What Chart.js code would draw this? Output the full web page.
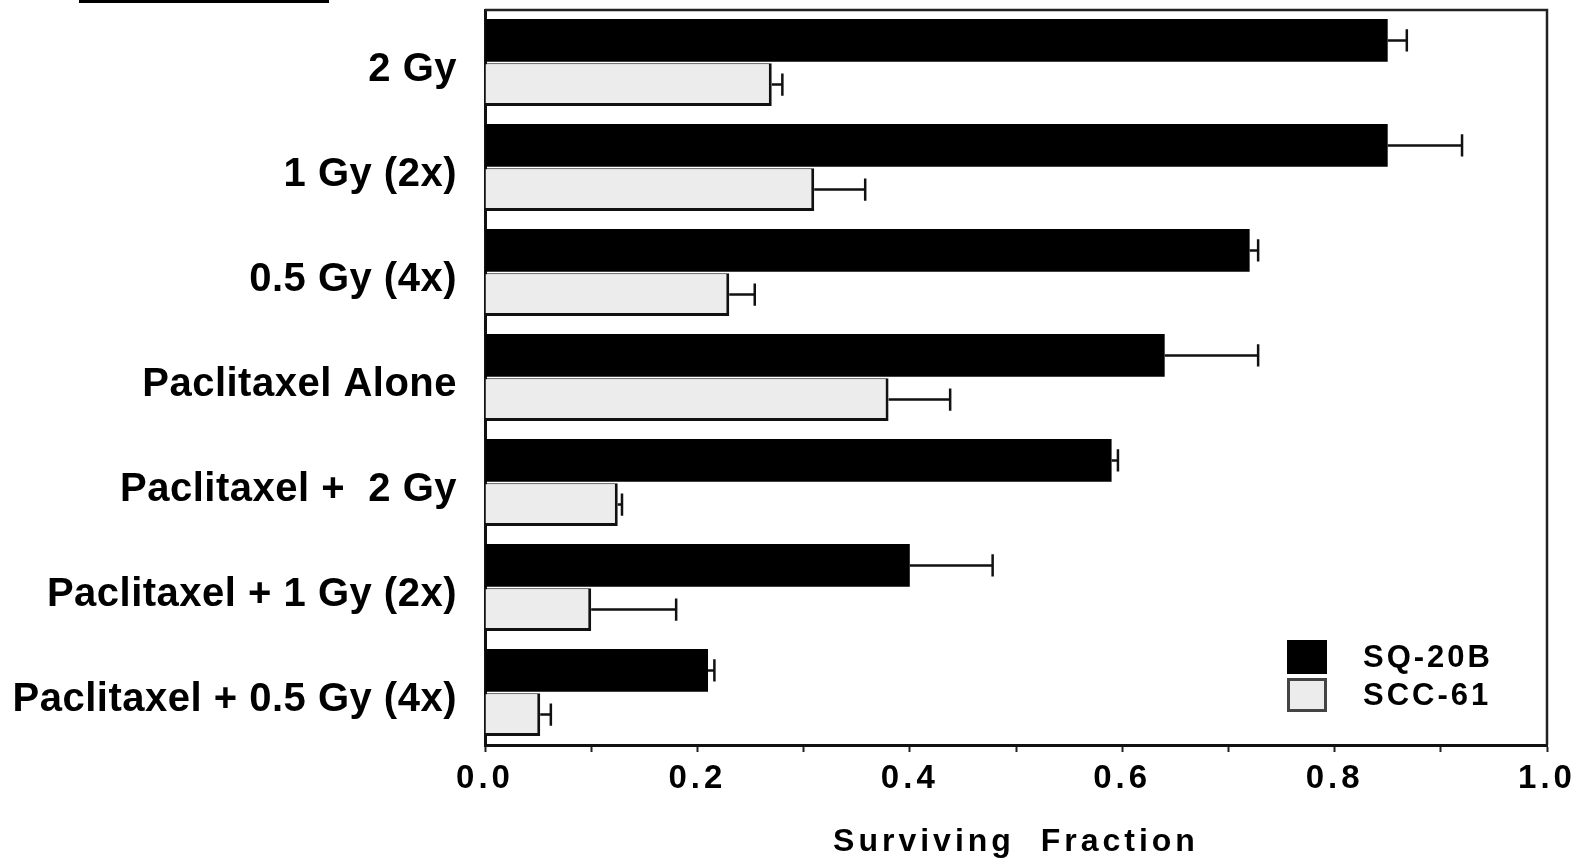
<!DOCTYPE html>
<html>
<head>
<meta charset="utf-8">
<script src="https://cdn.jsdelivr.net/npm/chart.js@4.4.1/dist/chart.umd.min.js"></script>
<style>
    body { margin: 0; background: #fff; }
    #wrap { position: relative; width: 1587px; height: 861px; }
    #top_rule { position: absolute; left: 79px; top: 0; width: 250px; height: 3px; background: #000; }
    #legend { position: absolute; left: 1287px; top: 638px; font-family: 'Liberation Sans', Arial, sans-serif; font-weight: bold; font-size: 31px; letter-spacing: 3px; color: #000; }
    .legend_row { display: flex; align-items: center; height: 38px; }
    .legend_box { width: 40px; height: 34px; box-sizing: border-box; margin-right: 36px; }
</style>
</head>
<body>
<div id="wrap">
    <canvas id="chart_surv" width="1587" height="861"></canvas>
    <div id="top_rule"></div>
    <div id="legend"></div>
</div>
<script>
const categories = [
    '2 Gy',
    '1 Gy (2x)',
    '0.5 Gy (4x)',
    'Paclitaxel Alone',
    'Paclitaxel +  2 Gy',
    'Paclitaxel + 1 Gy (2x)',
    'Paclitaxel + 0.5 Gy (4x)',
];

const sq20b_values = [0.85, 0.85, 0.72, 0.64, 0.59, 0.40, 0.21];
const sq20b_errors = [0.018, 0.07, 0.008, 0.088, 0.006, 0.078, 0.006];

const scc61_values = [0.27, 0.31, 0.23, 0.38, 0.125, 0.10, 0.052];
const scc61_errors = [0.01, 0.048, 0.024, 0.058, 0.004, 0.08, 0.01];

const x_tick_values = [0, 0.1, 0.2, 0.3, 0.4, 0.5, 0.6, 0.7, 0.8, 0.9, 1.0];
const x_tick_labels = ['0.0', '', '0.2', '', '0.4', '', '0.6', '', '0.8', '', '1.0'];

const font_family = "'Liberation Sans', Arial, sans-serif";

// error bars: line from bar end out to value + error, with a cap
const error_bar_plugin = {
    id: 'error_bars',
    afterDatasetsDraw(chart) {
        const ctx = chart.ctx;
        const x_scale = chart.scales.x;
        chart.data.datasets.forEach((ds, i) => {
            const meta = chart.getDatasetMeta(i);
            meta.data.forEach((bar, j) => {
                const err = ds.errors[j];
                const x_end = x_scale.getPixelForValue(ds.data[j] + err);
                const cap = bar.height * 0.26;
                ctx.save();
                ctx.strokeStyle = '#111';
                ctx.lineWidth = 2.5;
                ctx.beginPath();
                ctx.moveTo(bar.x, bar.y);
                ctx.lineTo(x_end, bar.y);
                ctx.moveTo(x_end, bar.y - cap);
                ctx.lineTo(x_end, bar.y + cap);
                ctx.stroke();
                ctx.restore();
            });
        });
    },
};

// box round the plot area (top and right sides)
const frame_plugin = {
    id: 'frame',
    afterDraw(chart) {
        const a = chart.chartArea;
        const ctx = chart.ctx;
        ctx.save();
        ctx.strokeStyle = '#222';
        ctx.lineWidth = 2.5;
        ctx.beginPath();
        ctx.moveTo(a.left, a.top);
        ctx.lineTo(a.right, a.top);
        ctx.lineTo(a.right, a.bottom);
        ctx.stroke();
        ctx.restore();
    },
};

function wrap_spacing(chart, scale, spacing) {
    const draw_labels = scale.drawLabels;
    const draw_title = scale.drawTitle;
    scale.drawLabels = function (area) {
        chart.ctx.save();
        chart.ctx.letterSpacing = spacing;
        draw_labels.call(this, area);
        chart.ctx.restore();
    };
    scale.drawTitle = function () {
        chart.ctx.save();
        chart.ctx.letterSpacing = spacing;
        draw_title.call(this);
        chart.ctx.restore();
    };
    scale._spaced = true;
}

// the scanned figure uses wide letter spacing on axis text
const spacing_plugin = {
    id: 'spacing',
    beforeDraw(chart) {
        if (!chart.scales.x._spaced) {
            wrap_spacing(chart, chart.scales.x, '4px');
        }
        if (!chart.scales.y._spaced) {
            wrap_spacing(chart, chart.scales.y, '0.5px');
        }
    },
};

const surv_chart = new Chart(document.getElementById('chart_surv').getContext('2d'), {
    type: 'bar',
    data: {
        labels: categories,
        datasets: [
            {
                label: 'SQ-20B',
                data: sq20b_values,
                errors: sq20b_errors,
                backgroundColor: '#000',
                borderWidth: 0,
            },
            {
                label: 'SCC-61',
                data: scc61_values,
                errors: scc61_errors,
                backgroundColor: '#ececec',
                borderColor: '#111',
                borderWidth: { top: 1, right: 3, bottom: 3, left: 0 },
            },
        ],
    },
    options: {
        indexAxis: 'y',
        responsive: false,
        animation: false,
        categoryPercentage: 0.84,
        barPercentage: 0.97,
        layout: { padding: { left: 0, top: 10, right: 40, bottom: 0 } },
        plugins: {
            legend: { display: false },
            tooltip: { enabled: false },
        },
        scales: {
            x: {
                min: 0,
                max: 1,
                afterBuildTicks: (scale) => {
                    scale.ticks = x_tick_values.map((v) => ({ value: v }));
                },
                afterFit: (scale) => {
                    scale.height = 116;
                    scale.paddingLeft = 0;
                    scale.paddingRight = 0;
                },
                ticks: {
                    autoSkip: false,
                    maxRotation: 0,
                    padding: 7,
                    color: '#000',
                    font: { family: font_family, size: 33, weight: 'bold' },
                    callback: (value, index) => x_tick_labels[index],
                },
                grid: {
                    drawOnChartArea: false,
                    drawTicks: true,
                    tickLength: 7,
                    tickColor: '#222',
                    tickWidth: 2,
                },
                border: { display: true, color: '#111', width: 3 },
                title: {
                    display: true,
                    text: 'Surviving  Fraction',
                    color: '#000',
                    font: { family: font_family, size: 32, weight: 'bold' },
                    padding: { top: 0, bottom: 0 },
                },
            },
            y: {
                afterFit: (scale) => {
                    scale.width = 485;
                    scale.paddingTop = 0;
                    scale.paddingBottom = 0;
                },
                ticks: {
                    padding: 28,
                    labelOffset: 7,
                    color: '#000',
                    font: { family: font_family, size: 40, weight: 'bold' },
                },
                grid: { drawOnChartArea: false, drawTicks: false },
                border: { display: true, color: '#111', width: 3 },
            },
        },
    },
    plugins: [error_bar_plugin, frame_plugin, spacing_plugin],
});

// legend built from the chart's datasets
const legend_el = document.getElementById('legend');
surv_chart.data.datasets.forEach((ds) => {
    const row = document.createElement('div');
    row.className = 'legend_row';
    const box = document.createElement('div');
    box.className = 'legend_box';
    box.style.background = ds.backgroundColor;
    if (ds.borderColor) {
        box.style.border = '3px solid #444';
    }
    const text = document.createElement('span');
    text.textContent = ds.label;
    row.appendChild(box);
    row.appendChild(text);
    legend_el.appendChild(row);
});
</script>
</body>
</html>
